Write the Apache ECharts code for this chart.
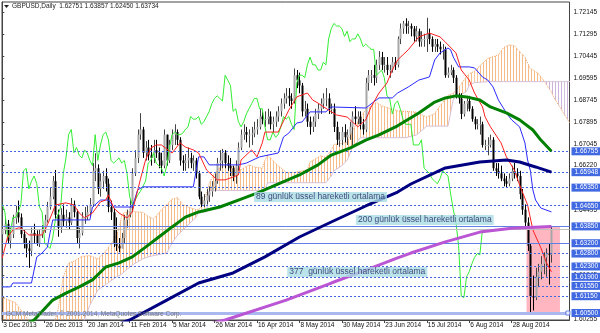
<!DOCTYPE html>
<html><head><meta charset="utf-8">
<script src="https://cdn.jsdelivr.net/npm/echarts@6/dist/echarts.min.js"></script>
<style>html,body{margin:0;padding:0;background:#fff}#c{width:600px;height:333px}</style>
</head><body><div id="c"></div>
<script>
const dateLabels = ['3 Dec 2013','26 Dec 2013','20 Jan 2014','11 Feb 2014','5 Mar 2014','26 Mar 2014','16 Apr 2014','8 May 2014','30 May 2014','23 Jun 2014','15 Jul 2014','6 Aug 2014','28 Aug 2014'];
const dateTickIdx = [0,16,32,48,64,80,96,112,128,144,160,176,192];
const priceTicks = [1.72145,1.71295,1.70445,1.69595,1.68745,1.67895,1.67045,1.66220,1.64495,1.62795,1.61945,1.61095,1.60255];
const levelsDashed = [1.66755,1.65948,1.65350,1.64650,1.62800,1.62300,1.61900,1.61550,1.61150];
const levelsSolid = [1.63850,1.63200];
const levelThick = 1.60500;
const bidPrice = 1.63734;
const headerText = 'GBPUSD,Daily  1.62751 1.63857 1.62450 1.63734';
const firstOpen = 1.6355;
const closes = [
1.6370,1.6395,1.6330,1.6355,1.6415,1.6440,1.6420,1.6355,1.6320,1.6300,
1.6290,1.6360,1.6350,1.6320,1.6355,1.6370,1.6410,1.6460,1.6500,1.6560,
1.6430,1.6380,1.6430,1.6405,1.6420,1.6400,1.6470,1.6440,1.6340,1.6360,
1.6420,1.6420,1.6440,1.6470,1.6600,1.6610,1.6530,1.6560,1.6580,1.6550,
1.6460,1.6440,1.6320,1.6310,1.6300,1.6340,1.6410,1.6430,1.6460,1.6590,
1.6650,1.6740,1.6760,1.6670,1.6690,1.6660,1.6650,1.6680,1.6670,1.6640,
1.6620,1.6740,1.6640,1.6700,1.6740,1.6750,1.6720,1.6640,1.6630,1.6640,
1.6650,1.6630,1.6640,1.6590,1.6500,1.6470,1.6485,1.6505,1.6520,1.6540,
1.6560,1.6630,1.6640,1.6670,1.6630,1.6620,1.6610,1.6580,1.6620,1.6690,
1.6740,1.6750,1.6740,1.6740,1.6745,1.6760,1.6770,1.6810,1.6800,1.6800,
1.6810,1.6780,1.6790,1.6810,1.6830,1.6860,1.6880,1.6890,1.6880,1.6870,
1.6970,1.6950,1.6930,1.6830,1.6840,1.6790,1.6770,1.6790,1.6820,1.6840,
1.6860,1.6880,1.6880,1.6840,1.6840,1.6770,1.6720,1.6720,1.6750,1.6730,
1.6740,1.6770,1.6810,1.6800,1.6810,1.6780,1.6760,1.6940,1.6970,1.6970,
1.6960,1.7010,1.7040,1.7010,1.7010,1.6990,1.6990,1.7020,1.7010,1.7110,
1.7150,1.7170,1.7160,1.7160,1.7150,1.7120,1.7140,1.7100,1.7110,1.7110,
1.7130,1.7110,1.7080,1.7090,1.7080,1.7070,1.7070,1.6970,1.6980,1.6990,
1.6960,1.6890,1.6880,1.6820,1.6860,1.6870,1.6840,1.6800,1.6780,1.6780,
1.6780,1.6700,1.6700,1.6700,1.6720,1.6610,1.6600,1.6590,1.6570,1.6560,
1.6550,1.6570,1.6600,1.6590,1.6580,1.6510,1.6450,1.6400,1.6310,1.6115,
1.6110,1.6190,1.6210,1.6240,1.6265,1.6280,1.6275,1.63734];
const highs = [
1.6395,1.6420,1.6410,1.6380,1.6430,1.6465,1.6485,1.6435,1.6375,1.6340,
1.6330,1.6380,1.6395,1.6370,1.6375,1.6390,1.6430,1.6480,1.6535,1.6580,
1.6603,1.6450,1.6455,1.6470,1.6450,1.6440,1.6495,1.6485,1.6450,1.6380,
1.6440,1.6460,1.6465,1.6495,1.6630,1.6668,1.6625,1.6590,1.6600,1.6610,
1.6570,1.6485,1.6455,1.6420,1.6340,1.6360,1.6430,1.6450,1.6490,1.6610,
1.6680,1.6760,1.6823,1.6770,1.6715,1.6720,1.6700,1.6720,1.6720,1.6690,
1.6670,1.6760,1.6740,1.6720,1.6760,1.6780,1.6760,1.6730,1.6660,1.6665,
1.6690,1.6670,1.6660,1.6650,1.6600,1.6520,1.6510,1.6530,1.6540,1.6560,
1.6590,1.6650,1.6680,1.6685,1.6680,1.6660,1.6650,1.6620,1.6640,1.6710,
1.6760,1.6780,1.6770,1.6760,1.6770,1.6790,1.6800,1.6840,1.6830,1.6830,
1.6840,1.6830,1.6810,1.6830,1.6850,1.6880,1.6900,1.6920,1.6920,1.6900,
1.6996,1.6990,1.6980,1.6940,1.6870,1.6860,1.6810,1.6810,1.6840,1.6860,
1.6880,1.6900,1.6920,1.6900,1.6860,1.6860,1.6790,1.6750,1.6770,1.6780,
1.6760,1.6790,1.6830,1.6850,1.6830,1.6830,1.6800,1.6960,1.6990,1.6990,
1.7010,1.7030,1.7063,1.7060,1.7040,1.7040,1.7010,1.7040,1.7040,1.7120,
1.7170,1.7180,1.7190,1.7180,1.7170,1.7160,1.7160,1.7150,1.7140,1.7130,
1.7192,1.7150,1.7120,1.7110,1.7110,1.7100,1.7090,1.7080,1.7000,1.7010,
1.7000,1.6970,1.6900,1.6900,1.6870,1.6890,1.6890,1.6850,1.6810,1.6800,
1.6810,1.6790,1.6720,1.6730,1.6740,1.6730,1.6630,1.6630,1.6620,1.6590,
1.6580,1.6590,1.6620,1.6630,1.6610,1.6600,1.6530,1.6470,1.6420,1.6320,
1.6195,1.6225,1.6240,1.6270,1.6285,1.6300,1.6320,1.63857];
const lows = [
1.6335,1.6355,1.6320,1.6300,1.6340,1.6395,1.6400,1.6340,1.6300,1.6265,
1.6225,1.6270,1.6320,1.6310,1.6305,1.6340,1.6360,1.6400,1.6450,1.6490,
1.6415,1.6345,1.6360,1.6385,1.6380,1.6375,1.6390,1.6420,1.6320,1.6300,
1.6350,1.6395,1.6410,1.6420,1.6460,1.6560,1.6510,1.6500,1.6530,1.6520,
1.6440,1.6410,1.6305,1.6290,1.6285,1.6300,1.6320,1.6380,1.6420,1.6440,
1.6580,1.6630,1.6720,1.6650,1.6640,1.6640,1.6620,1.6630,1.6650,1.6610,
1.6590,1.6610,1.6620,1.6630,1.6680,1.6700,1.6700,1.6620,1.6600,1.6600,
1.6610,1.6610,1.6600,1.6570,1.6490,1.6460,1.6460,1.6470,1.6480,1.6500,
1.6520,1.6550,1.6600,1.6610,1.6610,1.6600,1.6580,1.6560,1.6550,1.6600,
1.6680,1.6720,1.6710,1.6690,1.6700,1.6730,1.6740,1.6760,1.6780,1.6770,
1.6780,1.6760,1.6750,1.6770,1.6790,1.6810,1.6840,1.6860,1.6850,1.6840,
1.6860,1.6920,1.6900,1.6810,1.6810,1.6770,1.6740,1.6750,1.6770,1.6800,
1.6820,1.6840,1.6850,1.6820,1.6820,1.6750,1.6700,1.6693,1.6700,1.6710,
1.6700,1.6720,1.6700,1.6780,1.6780,1.6760,1.6740,1.6750,1.6910,1.6940,
1.6930,1.6940,1.6990,1.6990,1.6980,1.6970,1.6960,1.6980,1.6990,1.7000,
1.7090,1.7130,1.7130,1.7130,1.7120,1.7100,1.7100,1.7080,1.7080,1.7080,
1.7060,1.7090,1.7060,1.7060,1.7060,1.7050,1.7030,1.6960,1.6960,1.6970,
1.6940,1.6880,1.6860,1.6800,1.6810,1.6830,1.6830,1.6790,1.6760,1.6760,
1.6740,1.6690,1.6680,1.6660,1.6690,1.6600,1.6580,1.6570,1.6560,1.6540,
1.6535,1.6540,1.6560,1.6570,1.6560,1.6490,1.6430,1.6380,1.6290,1.6052,
1.6060,1.6100,1.6150,1.6180,1.6200,1.6190,1.6160,1.6245];
const tenkan = [[0,1.6263],[2,1.6344],[4,1.6371],[6,1.6379],[7,1.6379],[10,1.6352],[15,1.6352],[17,1.6391],[19,1.6441],[20,1.6468],[24,1.6476],[27,1.6468],[29,1.6437],[31,1.6418],[34,1.6437],[37,1.6480],[39,1.6487],[40,1.6507],[42,1.6456],[44,1.6437],[47,1.6418],[49,1.6441],[52,1.6565],[54,1.6642],[56,1.6688],[58,1.6700],[60,1.6700],[64,1.6669],[67,1.6708],[69,1.6692],[72,1.6681],[74,1.6669],[77,1.6603],[81,1.6565],[84,1.6565],[87,1.6576],[89,1.6584],[90,1.6642],[94,1.6681],[96,1.6654],[98,1.6708],[99,1.6750],[104,1.6750],[108,1.6835],[111,1.6886],[115,1.6901],[117,1.6874],[119,1.6862],[123,1.6835],[126,1.6816],[130,1.6808],[132,1.6789],[134,1.6770],[137,1.6797],[139,1.6847],[142,1.6901],[145,1.6940],[147,1.6990],[149,1.7029],[153,1.7068],[157,1.7118],[161,1.7133],[165,1.7118],[167,1.7098],[171,1.7056],[173,1.6990],[176,1.6951],[178,1.6901],[181,1.6847],[182,1.6808],[184,1.6770],[188,1.6708],[190,1.6654],[193,1.6603],[195,1.6545],[198,1.6468],[200,1.6371],[203,1.6302],[205,1.6247],[207,1.6209]];
const kijun = [[0,1.6151],[3,1.6151],[4,1.6166],[11,1.6166],[13,1.6267],[15,1.6282],[17,1.6305],[18,1.6360],[19,1.6410],[33,1.6410],[34,1.6460],[37,1.6487],[40,1.6487],[42,1.6460],[49,1.6460],[51,1.6526],[53,1.6538],[72,1.6538],[74,1.6654],[76,1.6654],[78,1.6623],[89,1.6623],[92,1.6630],[97,1.6654],[104,1.6669],[106,1.6731],[108,1.6746],[111,1.6785],[113,1.6789],[116,1.6828],[122,1.6828],[124,1.6847],[137,1.6843],[142,1.6882],[147,1.6882],[149,1.6901],[153,1.6924],[157,1.6951],[161,1.6963],[163,1.7029],[165,1.7056],[168,1.7075],[169,1.7068],[170,1.7040],[172,1.7002],[176,1.7002],[178,1.6998],[181,1.6963],[183,1.6951],[185,1.6924],[187,1.6874],[190,1.6824],[192,1.6797],[195,1.6770],[197,1.6708],[198,1.6642],[199,1.6603],[200,1.6526],[201,1.6487],[203,1.6456],[207,1.6441]];
// [bar index, Senkou A, Senkou B]
const cloudRows = [[0,1.6110,1.5950],[5,1.6090,1.5950],[10,1.6020,1.5950],[14,1.5990,1.5950],[19,1.5995,1.5950],[21,1.6062,1.5950],[23,1.6189,1.5950],[25,1.6243,1.5950],[27,1.6250,1.5950],[30,1.6269,1.6000],[33,1.6272,1.6080],[36,1.6259,1.6139],[39,1.6290,1.6160],[41,1.6317,1.6175],[43,1.6348,1.6189],[44,1.6380,1.6195],[45,1.6426,1.6200],[46,1.6439,1.6210],[49,1.6443,1.6236],[53,1.6439,1.6260],[55,1.6424,1.6267],[57,1.6414,1.6272],[60,1.6449,1.6278],[62,1.6470,1.6282],[64,1.6490,1.6321],[66,1.6497,1.6350],[68,1.6470,1.6370],[70,1.6460,1.6390],[73,1.6450,1.6420],[74,1.6450,1.6441],[75,1.6460,1.6441],[77,1.6513,1.6441],[78,1.6552,1.6524],[80,1.6590,1.6524],[82,1.6613,1.6524],[84,1.6619,1.6524],[86,1.6619,1.6524],[90,1.6604,1.6524],[93,1.6623,1.6524],[95,1.6615,1.6524],[98,1.6610,1.6524],[99,1.6640,1.6524],[100,1.6662,1.6554],[103,1.6629,1.6554],[107,1.6594,1.6554],[110,1.6594,1.6554],[113,1.6600,1.6554],[115,1.6604,1.6554],[116,1.6634,1.6554],[120,1.6658,1.6554],[122,1.6652,1.6554],[124,1.6681,1.6580],[125,1.6702,1.6600],[128,1.6706,1.6620],[130,1.6710,1.6641],[132,1.6756,1.6690],[134,1.6790,1.6715],[135,1.6810,1.6728],[137,1.6836,1.6728],[141,1.6865,1.6728],[143,1.6851,1.6728],[145,1.6845,1.6728],[149,1.6832,1.6728],[152,1.6830,1.6728],[156,1.6827,1.6738],[158,1.6817,1.6755],[160,1.6808,1.6773],[163,1.6821,1.6773],[165,1.6851,1.6773],[168,1.6892,1.6773],[170,1.6900,1.6877],[171,1.6911,1.6885],[173,1.6936,1.6895],[175,1.6965,1.6907],[176,1.6975,1.6932],[178,1.6985,1.6942],[179,1.6996,1.6942],[183,1.7035,1.6945],[187,1.7048,1.6945],[189,1.7077,1.6945],[191,1.7087,1.6945],[193,1.7084,1.6945],[197,1.7039,1.6945],[199,1.6996,1.6945],[202,1.6977,1.6945],[204,1.6950,1.6945],[207,1.6905,1.6945],[208,1.6882,1.6945],[210,1.6850,1.6945],[212,1.6815,1.6945],[214,1.6784,1.6945]];
const ema89 = [[0,1.5960],[12,1.6023],[19,1.6100],[24,1.6127],[29,1.6151],[34,1.6178],[39,1.6228],[44,1.6244],[49,1.6267],[54,1.6305],[59,1.6344],[64,1.6383],[69,1.6421],[74,1.6441],[82,1.6460],[89,1.6487],[96,1.6514],[103,1.6545],[112,1.6584],[119,1.6623],[124,1.6661],[131,1.6688],[137,1.6719],[142,1.6739],[149,1.6774],[157,1.6824],[163,1.6866],[167,1.6882],[171,1.6890],[175,1.6886],[180,1.6874],[184,1.6847],[190,1.6824],[195,1.6797],[200,1.6758],[203,1.6719],[207,1.6676]];
const ema200 = [[30,1.5960],[48,1.6023],[62,1.6100],[74,1.6166],[87,1.6205],[99,1.6267],[112,1.6344],[124,1.6402],[137,1.6464],[142,1.6487],[149,1.6518],[154,1.6549],[167,1.6611],[180,1.6634],[190,1.6642],[195,1.6634],[201,1.6615],[207,1.6595]];
const ema377 = [[60,1.5960],[84,1.6023],[107,1.6100],[124,1.6166],[137,1.6216],[149,1.6263],[154,1.6282],[167,1.6325],[180,1.6363],[192,1.6378],[207,1.6385]];
const maLabels = ['89 günlük üssel hareketli ortalama','200 günlük üssel hareketli ortalama','377  günlük üssel hareketli ortalama'];

const FONT = 'Liberation Sans';
const N = Math.min(closes.length, highs.length, lows.length);
const candles = [];
for (let i = 0; i < N; i++) {
  const o = i === 0 ? firstOpen : closes[i-1];
  candles.push([i, o, closes[i], lows[i], highs[i]]);
}
const chikou = [];
for (let i = 26; i < N; i++) chikou.push([i-26, closes[i]]);

function stripe(color){
  const c = document.createElement('canvas'); c.width = 3; c.height = 3;
  const g = c.getContext('2d'); g.fillStyle = color; g.fillRect(0,0,1,3);
  return {image: c, repeat: 'repeat'};
}
const patA = stripe('rgba(244,164,96,0.75)'), patB = stripe('rgba(200,170,215,0.9)');

function cloudItem(params, api){
  const k = params.dataIndex;
  if (k >= cloudRows.length - 1) return null;
  const r0 = cloudRows[k], r1 = cloudRows[k+1];
  const P = (i,v) => api.coord([i,v]);
  const d0 = r0[1]-r0[2], d1 = r1[1]-r1[2];
  const children = [];
  const poly = (pts, bull) => children.push({type:'polygon', shape:{points:pts}, style:{fill: bull?patA:patB}});
  if ((d0 >= 0) === (d1 >= 0)) {
    poly([P(r0[0],r0[1]),P(r1[0],r1[1]),P(r1[0],r1[2]),P(r0[0],r0[2])], d0+d1 >= 0);
  } else {
    const t = d0/(d0-d1), ic = r0[0]+t*(r1[0]-r0[0]), vc = r0[1]+t*(r1[1]-r0[1]);
    poly([P(r0[0],r0[1]),P(ic,vc),P(r0[0],r0[2])], d0 >= 0);
    poly([P(ic,vc),P(r1[0],r1[1]),P(r1[0],r1[2])], d1 >= 0);
  }
  return {type:'group', children};
}
function candleItem(params, api){
  const i = api.value(0), o = api.value(1), c = api.value(2), l = api.value(3), h = api.value(4);
  const pO = api.coord([i,o]), pC = api.coord([i,c]), pL = api.coord([i,l]), pH = api.coord([i,h]);
  const xi = Math.round(pO[0]);
  const bull = c >= o;
  const top = Math.min(pO[1],pC[1]), bot = Math.max(pO[1],pC[1]);
  return {type:'group', children:[
    {type:'line', shape:{x1:xi+0.5,y1:pH[1],x2:xi+0.5,y2:pL[1]}, style:{stroke: bull?'#444':'#000', lineWidth:1}},
    {type:'rect', shape:{x:xi-0.5, y:top, width:2, height:Math.max(1,bot-top)}, style:{fill: bull?'#a6a6a6':'#000'}}
  ]};
}
const lineS = (data, color, width, z, type) => ({type:'line', data, showSymbol:false, symbol:'none', silent:true, z, lineStyle:{color, width, type: type || 'solid'}, animation:false});

const chart = echarts.init(document.getElementById('c'), null, {renderer:'canvas'});
chart.setOption({
  animation: false,
  backgroundColor: '#ffffff',
  grid: {left:2, right:29, top:2, bottom:13, show:true, borderColor:'#444', borderWidth:1, backgroundColor:'transparent'},
  xAxis: {type:'value', min:-0.113, max:213.8,
    axisLine:{show:true, lineStyle:{color:'#444'}}, splitLine:{show:false},
    axisTick:{show:true, customValues: dateTickIdx, length:3, lineStyle:{color:'#444'}},
    axisLabel:{customValues: dateTickIdx, formatter: v => dateLabels[dateTickIdx.indexOf(Math.round(v))] || '',
      align:'left', margin:2, fontSize:6.5, color:'#111', fontFamily:FONT, padding:[0,0,0,1]}},
  yAxis: {type:'value', position:'right', min:1.6023, max:1.7253, scale:true,
    axisLine:{show:true, lineStyle:{color:'#444'}}, splitLine:{show:false},
    axisTick:{show:true, customValues: priceTicks, length:2, lineStyle:{color:'#444'}},
    axisLabel:{customValues: priceTicks, formatter: v => v.toFixed(5), margin:4, fontSize:6.5, color:'#111', fontFamily:FONT}},
  graphic: [
    {type:'polygon', shape:{points:[[4,5],[9,5],[6.5,8]]}, style:{fill:'#222'}},
    {type:'text', left:12, top:3, style:{text: headerText, font:'6.5px "Liberation Sans"', fill:'#222'}},
    {type:'text', left:6, top:311, z:20, style:{text:'GCM MetaTrader, © 2001-2014, MetaQuotes Software Corp.', font:'6.5px "Liberation Sans"', fill:'#777'}}
  ],
  series: [
    {type:'custom', renderItem: cloudItem, data: cloudRows, clip:true, silent:true, z:1, encode:{x:0, y:[1,2]}},
    lineS(cloudRows.map(r=>[r[0],r[1]]), '#F4A460', 1, 1, [1,1]),
    lineS(cloudRows.map(r=>[r[0],r[2]]), '#D8BFD8', 1, 1),
    {type:'line', data:[[0,1.65]], symbol:'none', silent:true, z:2, lineStyle:{opacity:0},
      markArea:{silent:true, itemStyle:{color:'#ffb6c1', opacity:1}, data:[[{coord:[197.6,1.6385]},{coord:[210.2,1.6050]}]]},
      markLine:{silent:true, symbol:['none','none'], precision:5, animation:false,
        label:{show:true, position:'end', distance:2, formatter: p => Number(p.value).toFixed(5), backgroundColor:'#4169E1', color:'#fff', fontSize:6.5, fontFamily:FONT, padding:[1,3,0,3]},
        data: [
          {yAxis: bidPrice, lineStyle:{color:'#c0c0c0', width:1, type:'solid'}, label:{show:false}},
          ...levelsDashed.map(v => ({yAxis:v, lineStyle:{color:'#4466dd', width:1, type:[2,2]}})),
          ...levelsSolid.map(v => ({yAxis:v, lineStyle:{color:'#6080e8', width:1, type:'solid'}})),
          {yAxis: levelThick, lineStyle:{color:'#aab8f0', width:3, type:'solid'}}
        ]}},
    {type:'custom', renderItem: candleItem, data: candles, clip:true, silent:true, z:3, encode:{x:0, y:[1,2,3,4]}},
    lineS(chikou, '#33ee33', 1, 4),
    lineS(kijun, '#2a2aff', 1, 4),
    lineS(tenkan, '#ff2020', 1, 4),
    lineS(ema377, '#BA55D3', 3, 5),
    lineS(ema200, '#000080', 3, 5),
    lineS(ema89, '#008000', 3, 5),
    {type:'scatter', silent:true, z:6, symbolSize:0,
      data:[{value:[94.9,1.6499], name:maLabels[0]},{value:[133.3,1.6410], name:maLabels[1]},{value:[107.4,1.6209], name:maLabels[2]}],
      label:{show:true, position:'right', distance:0, formatter:'{b}', backgroundColor:'#a9dde3', color:'#1c1c5c', fontSize:8.5, fontFamily:FONT, padding:[1,2,0,2]}},
    {type:'scatter', silent:true, z:7, symbol:'rect', symbolSize:4, data:[[213.2, levelThick]], itemStyle:{color:'#fff', borderColor:'#4466dd', borderWidth:1}}
  ]
});
</script></body></html>
